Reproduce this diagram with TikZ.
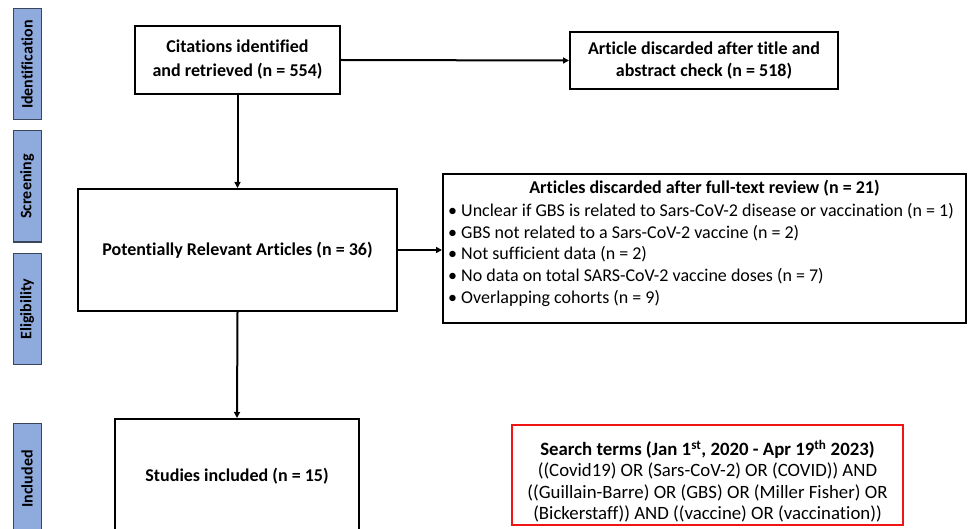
\documentclass[tikz,border=0pt]{standalone}
\usepackage{fontspec}
\setmainfont{Carlito}[Ligatures={NoCommon}]
\usetikzlibrary{arrows.meta}
\definecolor{sidefill}{RGB}{143,170,220}
\definecolor{sidedraw}{RGB}{60,70,90}
\definecolor{redbox}{RGB}{240,20,20}
\tikzset{
  flowbox/.style={draw=black, line width=2pt, fill=white, inner sep=0pt, align=center,
    font=\fontsize{18}{24}\selectfont\bfseries},
  sidebar/.style={draw=sidedraw, line width=1pt, fill=sidefill, inner sep=0pt,
    minimum width=28pt},
  sidelabel/.style={rotate=90, inner sep=0pt, font=\fontsize{16}{18}\selectfont\bfseries},
  conn/.style={line width=2pt, -{Triangle[length=6pt,width=6pt]}},
}
\begin{document}
\begin{tikzpicture}[x=1pt,y=-1pt]
\useasboundingbox (0,0) rectangle (968,529);
\clip (0,0) rectangle (968,529);
% side bars
\node[sidebar, minimum height=111pt] (sid) at (27,64.5) {};
\node[sidelabel] (sidt) at (sid.center) {Identification};
\node[sidebar, minimum height=111pt] (sscr) at (27,186.5) {};
\node[sidelabel] (sscrt) at (sscr.center) {Screening};
\node[sidebar, minimum height=111pt] (selig) at (27,309) {};
\node[sidelabel] (seligt) at (selig.center) {Eligibility};
\node[sidebar, minimum height=112pt] (sinc) at (27,479) {};
\node[sidelabel] (sinct) at (sinc.center) {Included};
% boxes
\node[flowbox, minimum width=205pt, minimum height=68pt] (cit) at (237.5,60) {Citations identified\\and retrieved (n = 554)};
\node[flowbox, minimum width=268pt, minimum height=57pt, font=\fontsize{18}{21.7}\selectfont\bfseries] (title) at (704,60.5) {Article discarded after title and\\abstract check (n = 518)};
\node[flowbox, minimum width=319pt, minimum height=122pt] (pot) at (237.5,250) {Potentially Relevant Articles (n = 36)};
\node[flowbox, minimum width=523pt, minimum height=149pt] (full) at (704.5,248.5) {};
\node[flowbox, minimum width=244pt, minimum height=115pt] (inc) at (237,476.5) {Studies included (n = 15)};
\node[draw=redbox, line width=2pt, minimum width=391pt, minimum height=100pt, inner sep=0pt] (search) at (707.5,475) {};
\node[align=center, inner sep=0pt, font=\fontsize{18.8}{21.3}\selectfont] (searchtext) at (707.5,481)
  {\textbf{Search terms (Jan 1\textsuperscript{st}, 2020 - Apr 19\textsuperscript{th} 2023)}\\
   ((Covid19) OR (Sars-CoV-2) OR (COVID)) AND\\
   ((Guillain-Barre) OR (GBS) OR (Miller Fisher) OR\\
   (Bickerstaff)) AND ((vaccine) OR (vaccination))};
% text of the full-text box
\node[font=\fontsize{18}{21.7}\selectfont\bfseries, inner sep=0pt] (fullhead) at (704.5,188.5) {Articles discarded after full-text review (n = 21)};
\node[font=\fontsize{18}{21.7}\selectfont, align=left, anchor=north west, inner sep=0pt] (fulllist) at (448,203)
  {\textbullet\ Unclear if GBS is related to Sars-CoV-2 disease or vaccination (n = 1)\\
   \textbullet\ GBS not related to a Sars-CoV-2 vaccine (n = 2)\\
   \textbullet\ Not sufficient data (n = 2)\\
   \textbullet\ No data on total SARS-CoV-2 vaccine doses (n = 7)\\
   \textbullet\ Overlapping cohorts (n = 9)};
% connectors
\draw[conn] (cit.south) -- (pot.north);
\draw[conn] (cit.east) -- (title.west);
\draw[conn] (pot.east) -- (full.west |- pot.east);
\draw[conn] (pot.south) -- (inc.north);
\end{tikzpicture}
\end{document}
